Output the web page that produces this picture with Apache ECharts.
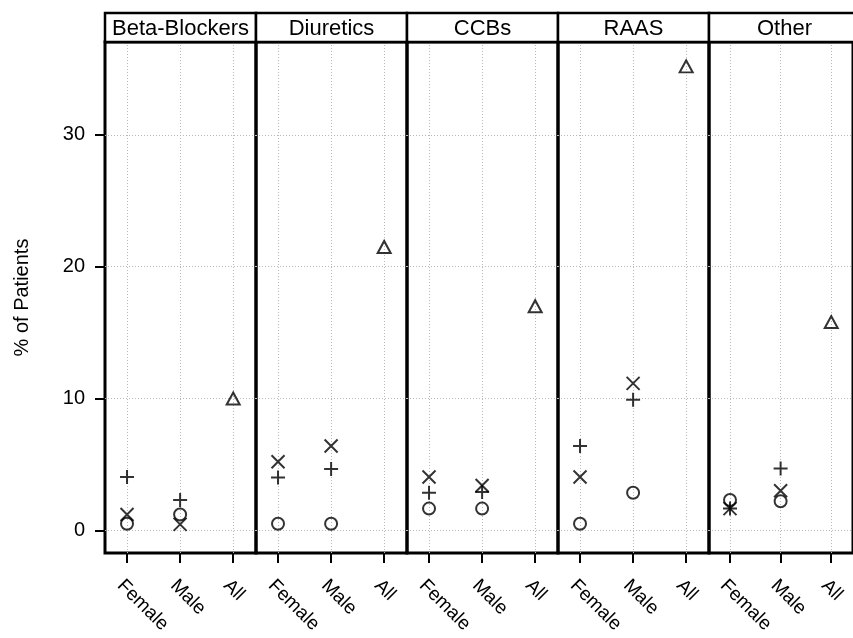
<!DOCTYPE html>
<html><head><meta charset="utf-8">
<script src="https://cdn.jsdelivr.net/npm/echarts@6/dist/echarts.min.js"></script>
<style>html,body{margin:0;padding:0;background:#fff}#c{width:853px;height:638px}</style>
</head><body><div id="c"></div>
<script>
// ---- data ----
const panels = ['Beta-Blockers', 'Diuretics', 'CCBs', 'RAAS', 'Other'];
const categories = ['Female', 'Male', 'All'];
const yTicks = [0, 10, 20, 30];
// per panel: [Female, Male]
const circleVals = [[0.5, 1.2], [0.5, 0.5], [1.65, 1.65], [0.5, 2.85], [2.3, 2.2]];
const plusVals   = [[4.05, 2.3], [4.0, 4.65], [2.85, 2.9], [6.4, 9.9], [1.65, 4.7]];
const crossVals  = [[1.2, 0.45], [5.2, 6.4], [4.05, 3.4], [4.05, 11.15], [1.65, 3.0]];
// per panel: [All]
const triangleVals = [10.0, 21.5, 17.0, 35.2, 15.8];

// ---- layout ----
const FONT = 'Liberation Sans, Arial, Helvetica, sans-serif';
const L0 = 105, PW = 151, TOP = 42, H = 511, STRIP_TOP = 13;
const catIdx = [1, 2, 3];

const grids = [], xAxes = [], yAxes = [], series = [], graphics = [];
const dotted = { show: true, lineStyle: { color: '#b8b8b8', width: 1, type: [1, 2] } };
const mk = (i, vals) => vals.map((v, k) => [catIdx[k], v]);
const base = (i) => ({ type: 'scatter', xAxisIndex: i, yAxisIndex: i, silent: true,
  emphasis: { disabled: true } });
const stroke = { color: 'rgba(0,0,0,0)', borderColor: '#000', borderWidth: 2 };

panels.forEach((p, i) => {
  const left = L0 + i * PW;
  grids.push({ left: left, top: TOP, width: PW, height: H, show: true,
    borderColor: '#000', borderWidth: 3, backgroundColor: 'transparent', containLabel: false });
  xAxes.push({ type: 'value', gridIndex: i, min: 0.585, max: 3.43,
    axisLine: { show: false, onZero: false },
    axisTick: { show: true, customValues: catIdx, length: 10, lineStyle: { color: '#000', width: 2 } },
    axisLabel: { show: true, customValues: catIdx, formatter: v => categories[Math.round(v) - 1],
      rotate: -45, align: 'left', verticalAlign: 'top', margin: 23,
      fontSize: 19, color: '#000', fontFamily: FONT },
    splitLine: dotted });
  yAxes.push({ type: 'value', gridIndex: i, min: -1.72, max: 37.05,
    axisLine: { show: false },
    axisTick: { show: i === 0, customValues: yTicks, length: 10, lineStyle: { color: '#000', width: 2 } },
    axisLabel: { show: i === 0, customValues: yTicks, margin: 20, fontSize: 20, color: '#000', fontFamily: FONT },
    splitLine: dotted,
    name: i === 0 ? '% of Patients' : '', nameLocation: 'middle', nameGap: 73,
    nameTextStyle: { fontSize: 20, color: '#000', fontFamily: FONT } });

  series.push(Object.assign(base(i), { data: mk(i, circleVals[i]), symbol: 'circle', symbolSize: 12, itemStyle: stroke }));
  series.push(Object.assign(base(i), { data: mk(i, plusVals[i]), symbol: 'path://M0,6H12M6,0V12', symbolSize: 14, itemStyle: stroke }));
  series.push(Object.assign(base(i), { data: mk(i, crossVals[i]), symbol: 'path://M0,0L12,12M12,0L0,12', symbolSize: 13, itemStyle: stroke }));
  series.push(Object.assign(base(i), { data: [[catIdx[2], triangleVals[i]]], symbol: 'triangle', symbolSize: [13, 12], itemStyle: stroke }));

  graphics.push({ type: 'rect', shape: { x: left, y: STRIP_TOP, width: PW, height: TOP - STRIP_TOP },
    style: { fill: '#fff', stroke: '#000', lineWidth: 2.5 }, z: 10 });
  graphics.push({ type: 'text', x: left + PW / 2, y: (STRIP_TOP + TOP) / 2 + 1,
    style: { text: p, fontSize: 22, fill: '#000', align: 'center', verticalAlign: 'middle', fontFamily: FONT }, z: 11 });
});

const chart = echarts.init(document.getElementById('c'), null, { renderer: 'canvas' });
chart.setOption({ animation: false, backgroundColor: '#fff', grid: grids, xAxis: xAxes, yAxis: yAxes,
  series: series, graphic: graphics });
</script></body></html>
